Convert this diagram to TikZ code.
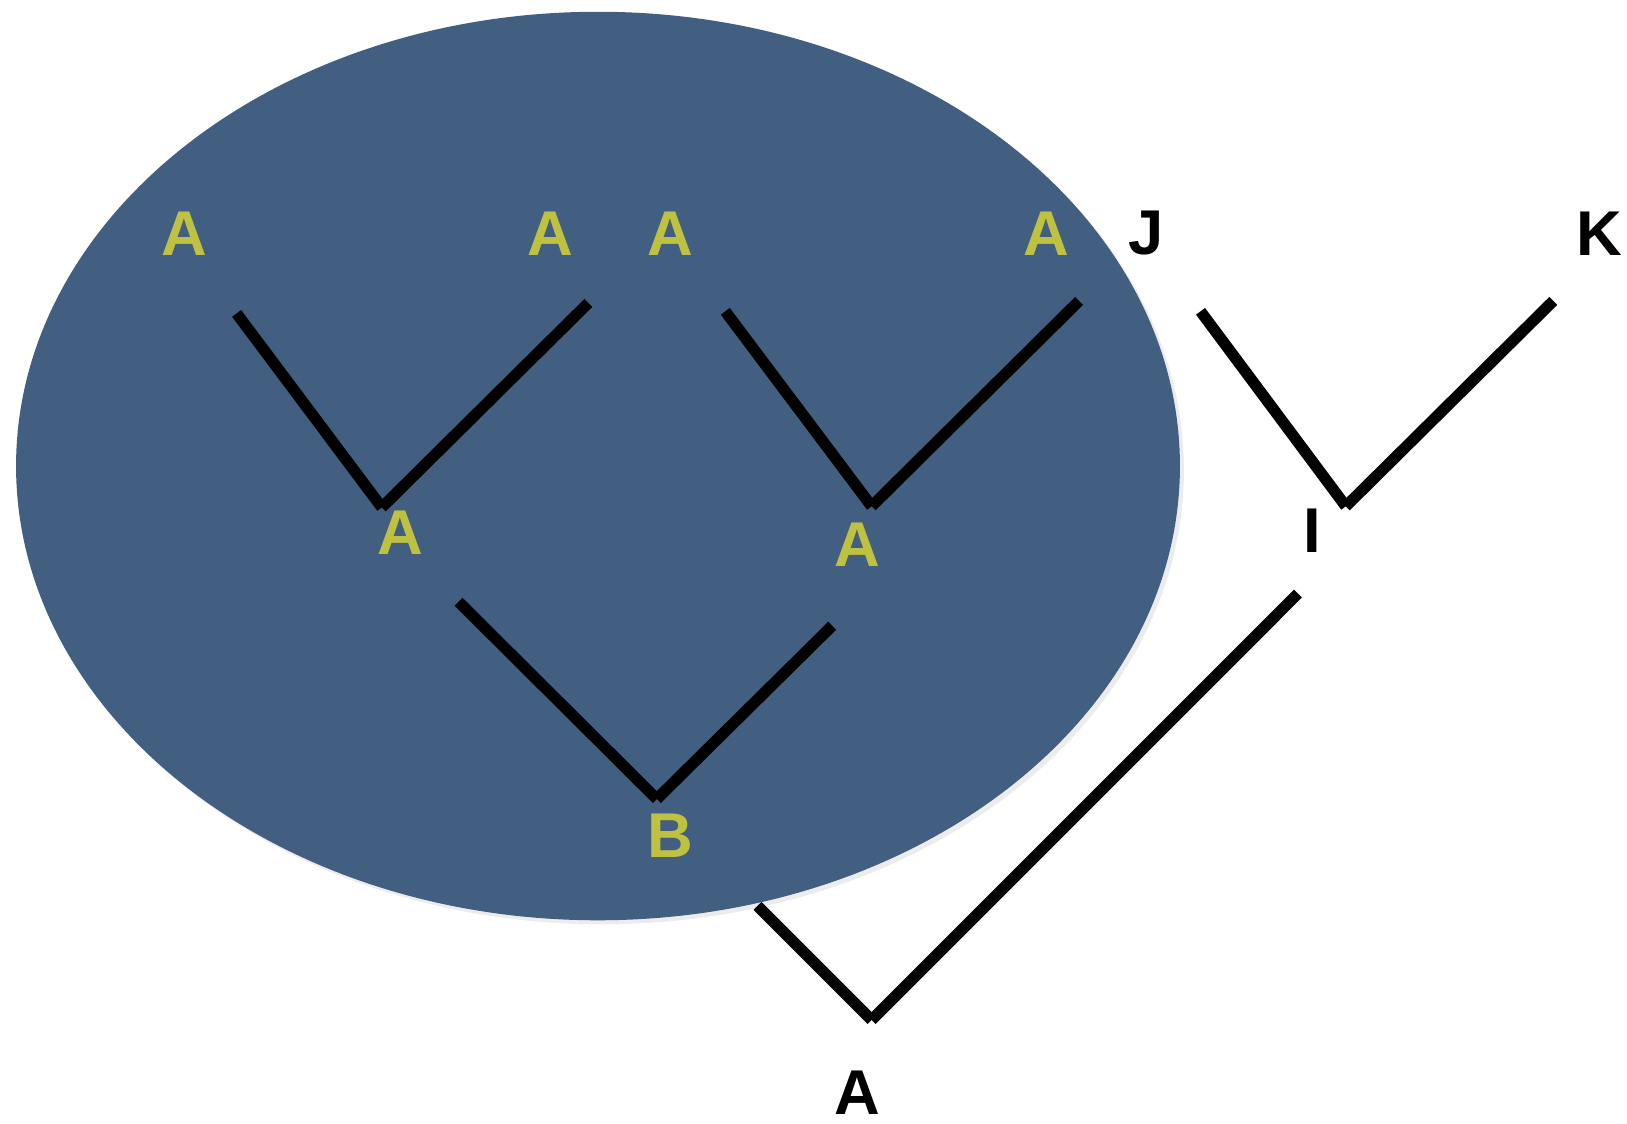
\documentclass[tikz,border=0pt]{standalone}
\usepackage{fontspec}
\setmainfont{Liberation Sans}
\usepackage{xcolor}
\usepackage{tikz}
\usetikzlibrary{shadows}

\definecolor{blobblue}{RGB}{66,94,128}
\definecolor{leafyellow}{RGB}{191,194,64}

\begin{document}
\begin{tikzpicture}[
    x=0.01cm, y=-0.01cm,
    every node/.style={font=\fontsize{18}{20}\selectfont\bfseries, inner sep=0pt},
    inlabel/.style={text=leafyellow},
    outlabel/.style={text=black},
    branch/.style={line width=3.2pt, black},
    blob/.style={fill=blobblue, drop shadow={shadow xshift=0.04cm, shadow yshift=-0.04cm, opacity=0.15}}
]
\useasboundingbox (0,0) rectangle (1627,1123);

% Shaded region
\fill[blob] (598,466) ellipse [x radius=5.816cm, y radius=4.54cm];

% Labels inside the region
\node[inlabel] (a1) at (184.7,233.5) {A};
\node[inlabel] (a2) at (549.9,233.5) {A};
\node[inlabel] (a3) at (670.3,233.5) {A};
\node[inlabel] (a4) at (1045.9,233.5) {A};
\node[inlabel] (a12) at (400.5,532.3) {A};
\node[inlabel] (a34) at (857,544.7) {A};
\node[inlabel] (b) at (670.3,835.3) {B};

% Labels outside
\node[outlabel] (j) at (1146.5,233.5) {J};
\node[outlabel] (k) at (1599,233.5) {K};
\node[outlabel] (i) at (1312.6,531.2) {I};
\node[outlabel] (root) at (857,1093) {A};

% Branch ends
\coordinate (t1l) at (236.6,313.4);
\coordinate (t1a) at (381.8,507.4);
\coordinate (t1r) at (588.3,303);

\coordinate (t2l) at (725.3,311.3);
\coordinate (t2a) at (871.6,506.3);
\coordinate (t2r) at (1079.1,300.9);

\coordinate (t3l) at (458.6,601.8);
\coordinate (t3a) at (656.8,799);
\coordinate (t3r) at (832.2,625.7);

\coordinate (t4l) at (1200.5,311.3);
\coordinate (t4a) at (1345.8,506.3);
\coordinate (t4r) at (1553.3,300.9);

\coordinate (t5l) at (757.5,905.8);
\coordinate (t5a) at (871.6,1020);
\coordinate (t5r) at (1298,593.5);

% Branches
\draw[branch] (t1l) -- (t1a);
\draw[branch] (t1r) -- (t1a);
\draw[branch] (t2l) -- (t2a);
\draw[branch] (t2r) -- (t2a);
\draw[branch] (t3l) -- (t3a);
\draw[branch] (t3r) -- (t3a);
\draw[branch] (t4l) -- (t4a);
\draw[branch] (t4r) -- (t4a);
\draw[branch] (t5l) -- (t5a);
\draw[branch] (t5r) -- (t5a);

\end{tikzpicture}
\end{document}
